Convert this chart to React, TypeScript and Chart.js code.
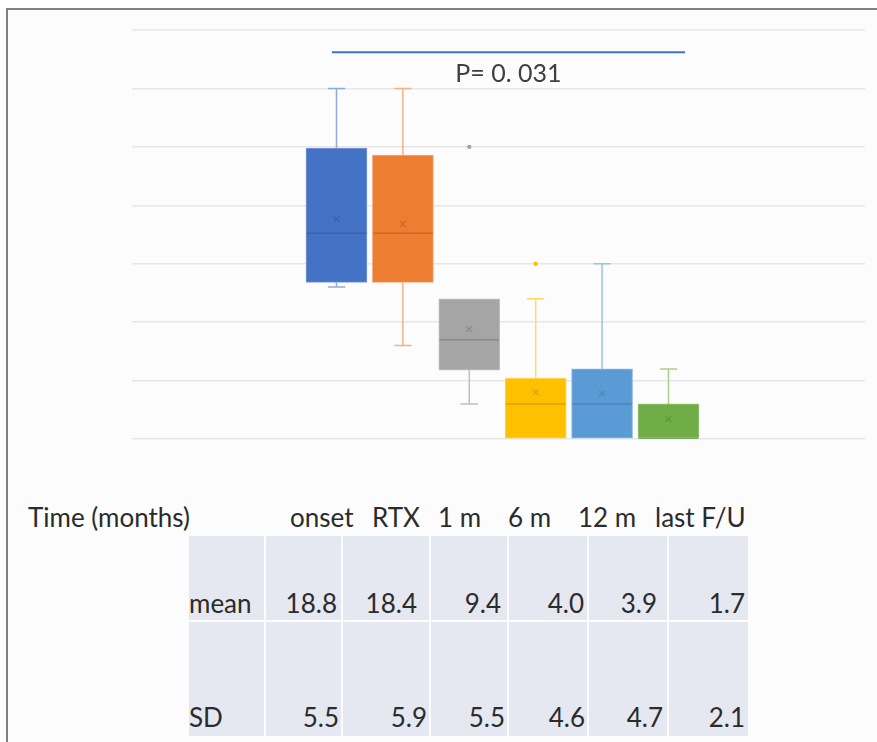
import React, { useEffect, useRef } from "react";
import { Chart, registerables } from "chart.js";

Chart.register(...registerables);

// ---------------- data ----------------
const categories = ["onset", "RTX", "1 m", "6 m", "12 m", "last F/U"];
const whiskerLow = [13, 8, 3, 0, 0, 0];
const quartile1 = [13.4, 13.4, 5.9, 0, 0, 0];
const medians = [17.6, 17.6, 8.5, 3, 3, 0];
const quartile3 = [24.9, 24.3, 12, 5.2, 6, 3];
const whiskerHigh = [30, 30, 12, 12, 15, 6];
const means = [18.8, 18.4, 9.4, 4.0, 3.9, 1.7];
const sds = [5.5, 5.9, 5.5, 4.6, 4.7, 2.1];
const outlierCategory = [2, 3];
const outlierValues = [25, 15];
const yTicks = [0, 5, 10, 15, 20, 25, 30, 35];
const pValueText = "P= 0. 031";
const pLineFrom = 2.93;
const pLineTo = 8.25;
const pLineY = 33.1;
const pTextY = 30.55;
const rowLabels = ["mean", "SD"];
const headerTitle = "Time (months)";

// ---------------- styles ----------------
const boxColors = ["#4472C4", "#ED7D31", "#A5A5A5", "#FFC000", "#5B9BD5", "#70AD47"];
const edgeColors = ["#7F9CD4", "#F3A673", "#C2C2C2", "#FFD34D", "#8DBBE3", "#98C67A"];
const whiskerColors = ["#8FAADC", "#F4B183", "#BFBFBF", "#FFD966", "#9DC3E6", "#A9D18E"];
const darkColors = ["#3A62A8", "#C8682A", "#8A8A8A", "#D9A300", "#4D85B8", "#5E9340"];
const FONT = "Lato, 'Open Sans', sans-serif";
const X_MIN = -0.08;
const X_MAX = 10.96;
const FIRST_X = 3;
const CAP = 0.13;
const HALF_BOX = 0.45;

const xOf = (i: number) => FIRST_X + i;

const pTextPlugin = {
  id: "pText",
  afterDatasetsDraw(chart: any) {
    const { ctx, scales } = chart;
    ctx.save();
    ctx.font = `25px ${FONT}`;
    ctx.fillStyle = "#404040";
    ctx.textAlign = "center";
    ctx.textBaseline = "alphabetic";
    ctx.fillText(
      pValueText,
      scales.x.getPixelForValue((pLineFrom + pLineTo) / 2),
      scales.y.getPixelForValue(pTextY)
    );
    ctx.restore();
  },
};

function ChartBox() {
  const ref = useRef<HTMLCanvasElement>(null);
  useEffect(() => {
    const canvas = ref.current!;
    const whiskerSets = categories.map((_, i) => {
      const x = xOf(i);
      const pts: any[] = [];
      if (whiskerHigh[i] > quartile3[i]) {
        pts.push(
          { x: x - CAP, y: whiskerHigh[i] },
          { x: x + CAP, y: whiskerHigh[i] },
          { x, y: null },
          { x, y: whiskerHigh[i] },
          { x, y: quartile3[i] },
          { x, y: null }
        );
      }
      if (whiskerLow[i] < quartile1[i]) {
        pts.push(
          { x, y: quartile1[i] },
          { x, y: whiskerLow[i] },
          { x, y: null },
          { x: x - CAP, y: whiskerLow[i] },
          { x: x + CAP, y: whiskerLow[i] }
        );
      }
      return {
        type: "line",
        data: pts,
        borderColor: whiskerColors[i],
        borderWidth: 1.5,
        pointRadius: 0,
        spanGaps: false,
        order: 5,
      };
    });
    const medianPts: any[] = [];
    categories.forEach((_, i) => {
      const x = xOf(i);
      medianPts.push(
        { x: x - HALF_BOX, y: medians[i] },
        { x: x + HALF_BOX, y: medians[i] },
        { x, y: null }
      );
    });

    const chart = new Chart(canvas, {
      type: "bar",
      data: {
        datasets: [
          {
            type: "bar",
            data: categories.map((_, i) => ({ x: xOf(i), y: [quartile1[i], quartile3[i]] })),
            backgroundColor: boxColors,
            borderColor: edgeColors,
            borderWidth: 1,
            borderSkipped: false,
            barThickness: 61,
            order: 4,
          } as any,
          ...whiskerSets,
          {
            type: "line",
            data: medianPts,
            borderWidth: 1.5,
            pointRadius: 0,
            spanGaps: false,
            segment: {
              borderColor: (c: any) => darkColors[Math.floor(c.p0DataIndex / 3)],
            },
            order: 3,
          },
          {
            type: "line",
            data: categories.map((_, i) => ({ x: xOf(i), y: means[i] })),
            showLine: false,
            pointStyle: "crossRot",
            pointRadius: 4,
            pointBorderWidth: 1.2,
            pointBorderColor: darkColors,
            order: 2,
          },
          {
            type: "line",
            data: outlierCategory.map((c, k) => ({ x: xOf(c), y: outlierValues[k] })),
            showLine: false,
            pointStyle: "circle",
            pointRadius: 2.2,
            pointBorderWidth: 0,
            pointBackgroundColor: outlierCategory.map((c) => boxColors[c]),
            order: 2,
          },
          {
            type: "line",
            data: [
              { x: pLineFrom, y: pLineY },
              { x: pLineTo, y: pLineY },
            ],
            borderColor: "#4472C4",
            borderWidth: 2,
            pointRadius: 0,
            order: 1,
          },
        ] as any,
      },
      options: {
        animation: false,
        responsive: false,
        maintainAspectRatio: false,
        layout: { padding: { left: 132, right: 12, top: 30, bottom: 31 } },
        plugins: { legend: { display: false }, tooltip: { enabled: false }, title: { display: false } },
        scales: {
          x: {
            type: "linear",
            min: X_MIN,
            max: X_MAX,
            offset: false,
            display: false,
            grid: { offset: false },
          },
          y: {
            min: yTicks[0],
            max: yTicks[yTicks.length - 1],
            afterBuildTicks: (axis: any) => {
              axis.ticks = yTicks.map((v) => ({ value: v }));
            },
            ticks: { display: false },
            grid: { color: "#e6e6e6", lineWidth: 1.5, drawTicks: false },
            border: { display: false },
          },
        },
      } as any,
      plugins: [pTextPlugin],
    });
    return () => chart.destroy();
  }, []);
  return (
    <canvas
      ref={ref}
      width={877}
      height={470}
      style={{ position: "absolute", left: 0, top: 0, width: 877, height: 470 }}
    />
  );
}

const colEdges = [189, 266, 343, 431, 509, 589, 669, 750];
const rowEdges = [536, 622, 738];
const headerLefts = [290, 372, 438, 508, 578, 655];
const meanPads = [4, 12, 6, 3, 10, 3];
const sdPads = [2, 2, 2, 2, 4, 3];
const BASE_OFF = 23;

export default function App() {
  useEffect(() => {
    document.body.style.margin = "0";
    document.body.style.overflow = "hidden";
    document.documentElement.style.overflow = "hidden";
  }, []);
  const textStyle: React.CSSProperties = {
    position: "absolute",
    font: `26px ${FONT}`,
    lineHeight: "26px",
    color: "#2b2b2b",
    whiteSpace: "nowrap",
  };
  const rowsVals = [means, sds];
  const rowBaselines = [613, 727];
  const rowPads = [meanPads, sdPads];
  return (
    <div
      style={{
        position: "fixed",
        left: 0,
        top: 0,
        width: 877,
        height: 742,
        overflow: "hidden",
        background: "#ffffff",
      }}
    >
      <div
        style={{
          position: "absolute",
          left: 6,
          top: 8,
          width: 950,
          height: 800,
          borderTop: "2px solid #7f7f7f",
          borderLeft: "2px solid #7f7f7f",
          background: "#fcfcfc",
        }}
      />
      <ChartBox />
      {rowEdges.slice(0, -1).map((top, r) =>
        colEdges.slice(0, -1).map((left, c) => (
          <div
            key={`c${r}-${c}`}
            style={{
              position: "absolute",
              left,
              top,
              width: colEdges[c + 1] - left - 2,
              height: rowEdges[r + 1] - top - 2,
              background: "#e5e8f0",
            }}
          />
        ))
      )}
      <div style={{ ...textStyle, left: 28, top: 527 - BASE_OFF }}>{headerTitle}</div>
      {categories.map((c, i) => (
        <div key={`h${i}`} style={{ ...textStyle, left: headerLefts[i], top: 527 - BASE_OFF }}>
          {c}
        </div>
      ))}
      {rowLabels.map((lab, r) => (
        <div key={`l${r}`} style={{ ...textStyle, left: 189, top: rowBaselines[r] - BASE_OFF }}>
          {lab}
        </div>
      ))}
      {rowsVals.map((vals, r) =>
        vals.map((v, i) => (
          <div
            key={`v${r}-${i}`}
            style={{
              ...textStyle,
              right: 877 - (colEdges[i + 2] - 2 - rowPads[r][i]),
              top: rowBaselines[r] - BASE_OFF,
            }}
          >
            {v.toFixed(1)}
          </div>
        ))
      )}
    </div>
  );
}
